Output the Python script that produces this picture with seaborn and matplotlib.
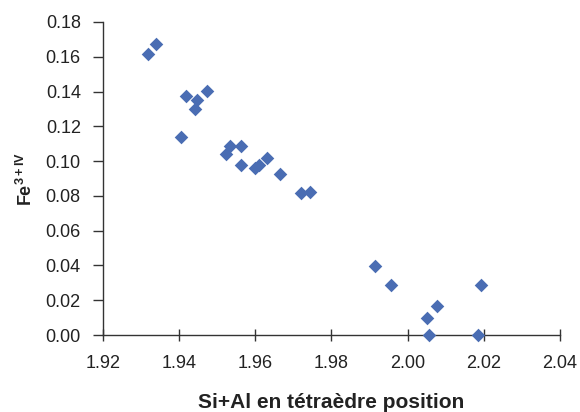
import matplotlib
matplotlib.use("Agg")
import matplotlib.pyplot as plt
import seaborn as sns
import pandas as pd
from matplotlib.ticker import MultipleLocator, FormatStrFormatter

si_al = [1.9319, 1.9338, 1.9418, 1.9473, 1.9448, 1.9442, 1.9406, 1.9533, 1.9524,
         1.9563, 1.9563, 1.9599, 1.9610, 1.9631, 1.9665, 1.9721, 1.9743,
         1.9914, 1.9955, 2.0076, 2.0051, 2.0056, 2.0192, 2.0185]
fe3 = [0.1616, 0.1672, 0.1374, 0.1403, 0.1350, 0.1298, 0.1137, 0.1087, 0.1039,
       0.1087, 0.0976, 0.0959, 0.0976, 0.1020, 0.0924, 0.0819, 0.0822,
       0.0397, 0.0288, 0.0167, 0.0100, 0.0000, 0.0288, 0.0000]

df = pd.DataFrame({"x": si_al, "y": fe3})

sns.set_theme(style="white")
plt.rcParams["font.family"] = ["Liberation Sans", "DejaVu Sans"]
plt.rcParams["mathtext.fontset"] = "custom"
plt.rcParams["mathtext.rm"] = "Liberation Sans"
plt.rcParams["mathtext.bf"] = "Liberation Sans:bold"

fig = plt.figure(figsize=(5.8, 4.12), dpi=100)
ax = fig.add_axes([103/580, 1 - 335/412, (560-103)/580, (335-22)/412])

sns.scatterplot(data=df, x="x", y="y", marker="D", s=48, color="#4a6db3",
                edgecolor="#4a6db3", linewidth=0, ax=ax, clip_on=False, zorder=3)

ax.set_xlim(1.92, 2.04)
ax.set_ylim(0.0, 0.18)
ax.xaxis.set_major_locator(MultipleLocator(0.02))
ax.yaxis.set_major_locator(MultipleLocator(0.02))
ax.xaxis.set_major_formatter(FormatStrFormatter("%.2f"))
ax.yaxis.set_major_formatter(FormatStrFormatter("%.2f"))

for s in ["top", "right"]:
    ax.spines[s].set_visible(False)
for s in ["left", "bottom"]:
    ax.spines[s].set_color("#333333")
    ax.spines[s].set_linewidth(1.0)

ax.tick_params(axis="y", which="major", direction="out", length=7, width=1,
               color="#333333", labelsize=13, labelcolor="#222222", pad=9, left=True)
ax.tick_params(axis="x", which="major", direction="inout", length=9, width=1,
               color="#333333", labelsize=13, labelcolor="#222222", pad=10, bottom=True)

ax.set_xlabel("")
fig.text(331/580, 1 - 408/412, "Si+Al en tétraèdre position", fontsize=15,
         fontweight="bold", color="#222222", ha="center", va="baseline")
ax.set_ylabel(r"Fe$^{\mathbf{3+IV}}$", fontsize=13, fontweight="bold",
              color="#222222", labelpad=7)

fig.savefig("out.png", dpi=100)
